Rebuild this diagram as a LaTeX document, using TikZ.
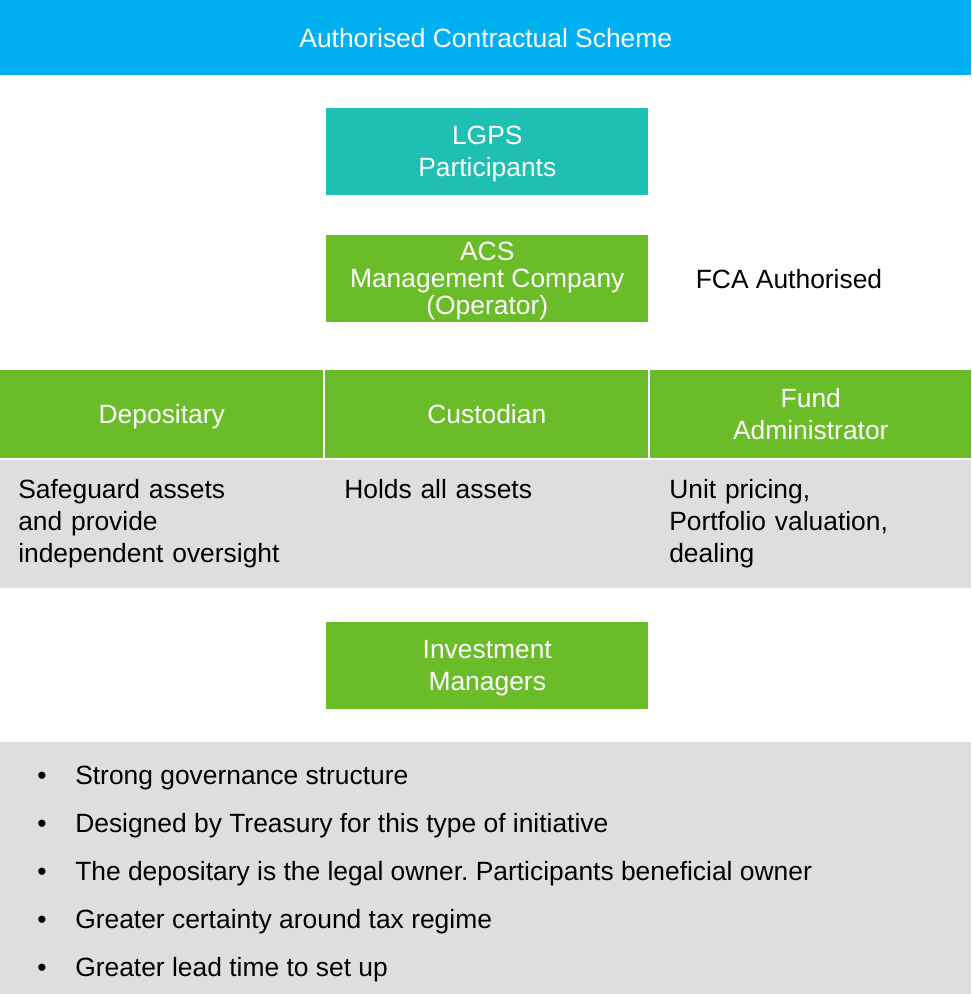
\documentclass[tikz,border=0pt]{standalone}
\usepackage{fontspec}
\setmainfont{Liberation Sans}
\frenchspacing

\definecolor{acsblue}{HTML}{00B0F0}
\definecolor{acsteal}{HTML}{1FBFB3}
\definecolor{acsgreen}{HTML}{6ABD29}
\definecolor{acsgrey}{HTML}{DEDEDE}

\begin{document}
\begin{tikzpicture}[x=0.75pt, y=-0.75pt,
		every node/.style = {inner sep=0, font=\fontsize{19.8}{24}\selectfont},
		band/.style = {rectangle, anchor=north west, fill=acsblue,	text=white, text depth=0pt, minimum width=971*0.75pt, minimum height=75*0.75pt},
		box/.style  = {rectangle, anchor=north west, text=white, text depth=0pt, align=center, minimum width=322*0.75pt, minimum height=87*0.75pt},
		head/.style = {rectangle, anchor=north west, fill=acsgreen,	text=white, text depth=0pt, align=center, minimum height=88*0.75pt},
		grey/.style = {rectangle, anchor=north west, fill=acsgrey,	minimum width=971*0.75pt},
		note/.style = {anchor=base west, text width=300*0.75pt, align=left},
		item/.style = {anchor=base west},
		]
		\useasboundingbox (0,0) rectangle (971,994);
		
		% === === Top band === ===
		\node[band]	(acs)	at	(0, 0)		{Authorised Contractual Scheme};
		
		% === === Boxes === ===
		\node[box, fill=acsteal]	(lgps)	at	(326, 108)	{LGPS\\Participants};
		\node[box, fill=acsgreen, font=\fontsize{19.8}{20.25}\selectfont]
									(opr)	at	(326, 235)	{ACS\\Management Company\\(Operator)};
		\node[anchor=base]			(fca)	at	(789, 289)	{FCA Authorised};
		
		% === === Service providers === ===
		\node[head, minimum width=323*0.75pt]	(dep)	at	(0, 370)	{Depositary};
		\node[head, minimum width=323*0.75pt]	(cus)	at	(325, 370)	{Custodian};
		\node[head, minimum width=321*0.75pt]	(adm)	at	(650, 370)	{Fund\\Administrator};
		
		\node[grey, minimum height=128*0.75pt]	(duty)	at	(0, 460)	{};
		\node[note]	(dep-d)	at	(18, 498)	{Safeguard assets\\and provide\\independent oversight};
		\node[note]	(cus-d)	at	(344, 498)	{Holds all assets};
		\node[note]	(adm-d)	at	(669, 498)	{Unit pricing,\\Portfolio valuation,\\dealing};
		
		\node[box, fill=acsgreen]	(inv)	at	(326, 622)	{Investment\\Managers};
		
		% === === Key points === ===
		\node[grey, minimum height=252*0.75pt]	(pros)	at	(0, 742)	{};
		\foreach \txt [count=\i] in {Strong governance structure, Designed by Treasury for this type of initiative, The depositary is the legal owner. Participants beneficial owner, Greater certainty around tax regime, Greater lead time to set up}
		{
			\node[anchor=base]	(dot\i)	at	(42, 736+48*\i)	{•};
			\node[item]			(pro\i)	at	(75, 736+48*\i)	{\txt};
		}
		
	\end{tikzpicture}
\end{document}
